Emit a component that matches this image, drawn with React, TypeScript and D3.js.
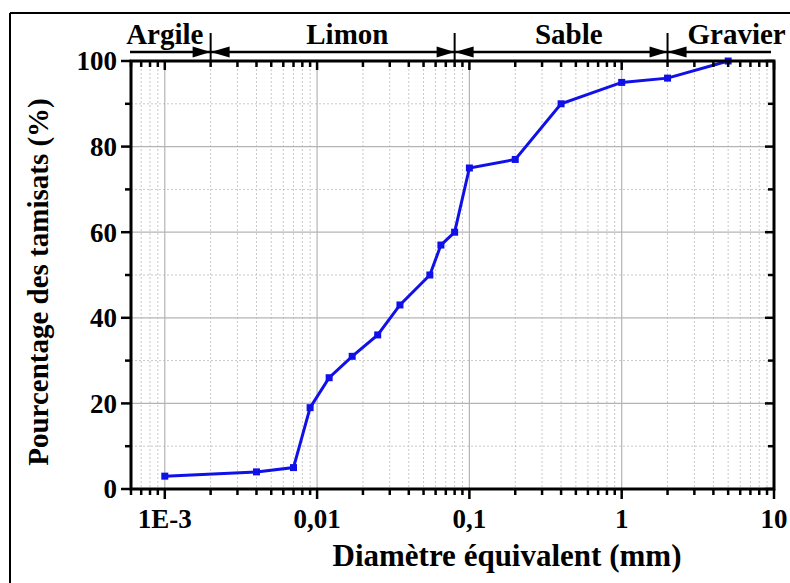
import React from "react";
import * as d3 from "d3";

const diameters = [0.001, 0.004, 0.007, 0.009, 0.012, 0.017, 0.025, 0.035, 0.055, 0.065, 0.08, 0.1, 0.2, 0.4, 1, 2, 5];
const passing = [3, 4, 5, 19, 26, 31, 36, 43, 50, 57, 60, 75, 77, 90, 95, 96, 100];
const xMajorTicks = [0.001, 0.01, 0.1, 1, 10];
const xTickLabels = ["1E-3", "0,01", "0,1", "1", "10"];
const yMajorTicks = [0, 20, 40, 60, 80, 100];
const yMinorTicks = [10, 30, 50, 70, 90];
const classBounds = [0.002, 0.08, 2];
const classNames = ["Argile", "Limon", "Sable", "Gravier"];
const classLabelCenters = [0.001, 0.0158, 0.449, 5.68];

const W = 790, H = 583;
const L = 131, R = 774, T = 61, B = 489;
const FONT = "'Liberation Serif', 'Times New Roman', serif";

export default function App() {
  const x = d3.scaleLog().domain([0.0006, 10]).range([L, R]);
  const y = d3.scaleLinear().domain([0, 100]).range([B, T]);

  const minorX: number[] = [];
  for (let e = -4; e <= 1; e++) {
    for (let m = 2; m <= 9; m++) {
      const v = m * Math.pow(10, e);
      if (v >= 0.0006 && v < 10) minorX.push(v);
    }
  }
  const line = d3.line<number>().x((_, i) => x(diameters[i])).y((d) => y(d));
  const headerY = 52;

  return (
    <svg width={W} height={H} style={{ position: "absolute", left: 0, top: 0, background: "#fff" }}>
      {/* outer border */}
      <line x1={10} y1={13} x2={W} y2={13} stroke="#000" strokeWidth={2} />
      <line x1={10} y1={13} x2={10} y2={H} stroke="#000" strokeWidth={2} />

      {/* minor grid */}
      {minorX.map((v, i) => (
        <line key={"mx" + i} x1={x(v)} x2={x(v)} y1={T} y2={B} stroke="#c8c8c8" strokeWidth={1} strokeDasharray="2,2" />
      ))}
      {yMinorTicks.map((v, i) => (
        <line key={"my" + i} x1={L} x2={R} y1={y(v)} y2={y(v)} stroke="#c8c8c8" strokeWidth={1} strokeDasharray="2,2" />
      ))}
      {/* major grid */}
      {xMajorTicks.map((v, i) => (
        <line key={"Mx" + i} x1={x(v)} x2={x(v)} y1={T} y2={B} stroke="#b4b4b4" strokeWidth={1.2} />
      ))}
      {yMajorTicks.map((v, i) => (
        <line key={"My" + i} x1={L} x2={R} y1={y(v)} y2={y(v)} stroke="#b4b4b4" strokeWidth={1.2} />
      ))}

      {/* data */}
      <path d={line(passing) || ""} fill="none" stroke="#1010e8" strokeWidth={3} />
      {passing.map((v, i) => (
        <rect key={"p" + i} x={x(diameters[i]) - 3.5} y={y(v) - 3.5} width={7} height={7} fill="#1010e8" />
      ))}

      {/* frame */}
      <rect x={L} y={T} width={R - L} height={B - T} fill="none" stroke="#000" strokeWidth={3} />

      {/* x ticks bottom (outward) and top (inward) */}
      {xMajorTicks.map((v, i) => (
        <g key={"xt" + i}>
          <line x1={x(v)} x2={x(v)} y1={B} y2={B + 10} stroke="#000" strokeWidth={2.5} />
          <line x1={x(v)} x2={x(v)} y1={T} y2={T + 9} stroke="#000" strokeWidth={2.5} />
          <text x={x(v)} y={528} textAnchor="middle" fontFamily={FONT} fontWeight="bold" fontSize={27}>{xTickLabels[i]}</text>
        </g>
      ))}
      {minorX.map((v, i) => (
        <g key={"xmt" + i}>
          <line x1={x(v)} x2={x(v)} y1={B} y2={B + 6} stroke="#000" strokeWidth={2.5} />
          <line x1={x(v)} x2={x(v)} y1={T} y2={T + 6} stroke="#000" strokeWidth={2.5} />
        </g>
      ))}
      {/* y ticks left (outward) and right (inward) */}
      {yMajorTicks.map((v, i) => (
        <g key={"yt" + i}>
          <line x1={L - 10} x2={L} y1={y(v)} y2={y(v)} stroke="#000" strokeWidth={2.5} />
          <line x1={R - 9} x2={R} y1={y(v)} y2={y(v)} stroke="#000" strokeWidth={2.5} />
          <text x={117} y={y(v)} dy="0.35em" textAnchor="end" fontFamily={FONT} fontWeight="bold" fontSize={27}>{v}</text>
        </g>
      ))}
      {yMinorTicks.map((v, i) => (
        <g key={"ymt" + i}>
          <line x1={L - 6} x2={L} y1={y(v)} y2={y(v)} stroke="#000" strokeWidth={2.5} />
          <line x1={R - 6} x2={R} y1={y(v)} y2={y(v)} stroke="#000" strokeWidth={2.5} />
        </g>
      ))}

      {/* axis titles */}
      <text x={507} y={566} textAnchor="middle" fontFamily={FONT} fontWeight="bold" fontSize={31}>Diamètre équivalent (mm)</text>
      <text transform={`translate(48,282) rotate(-90)`} textAnchor="middle" fontFamily={FONT} fontWeight="bold" fontSize={29}>Pourcentage des tamisats (%)</text>

      {/* soil class header */}
      <line x1={130} x2={771} y1={headerY} y2={headerY} stroke="#000" strokeWidth={2.5} />
      {classBounds.map((b, i) => {
        const bx = x(b);
        return (
          <g key={"cb" + i}>
            <line x1={bx} x2={bx} y1={33} y2={62} stroke="#000" strokeWidth={2} />
            <path d={`M${bx},${headerY} L${bx - 18},${headerY - 5.5} L${bx - 18},${headerY + 5.5} Z`} fill="#000" />
            <path d={`M${bx},${headerY} L${bx + 19},${headerY - 5.5} L${bx + 19},${headerY + 5.5} Z`} fill="#000" />
          </g>
        );
      })}
      {classNames.map((n, i) => (
        <text key={"cn" + i} x={x(classLabelCenters[i])} y={44} textAnchor="middle" fontFamily={FONT} fontWeight="bold" fontSize={29}>{n}</text>
      ))}
    </svg>
  );
}
